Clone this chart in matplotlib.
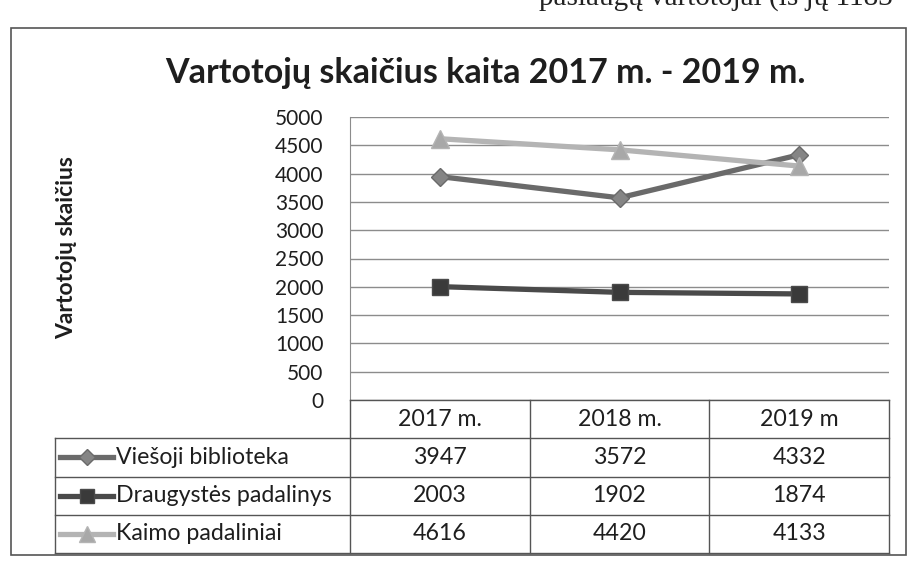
import matplotlib
matplotlib.use("Agg")
import matplotlib.pyplot as plt
import matplotlib.transforms as mtransforms
from matplotlib.lines import Line2D
from matplotlib.patches import Rectangle

plt.rcParams['font.family'] = ['Lato', 'DejaVu Sans']

title = "Vartotojų skaičius kaita 2017 m. - 2019 m."
ylabel = "Vartotojų skaičius"
top_text = "paslaugų vartotojai (iš jų 1183"
categories = ["2017 m.", "2018 m.", "2019 m"]
series_names = ["Viešoji biblioteka", "Draugystės padalinys", "Kaimo padaliniai"]
viesoji = [3947, 3572, 4332]
draugystes = [2003, 1902, 1874]
kaimo = [4616, 4420, 4133]
yticks = [0, 500, 1000, 1500, 2000, 2500, 3000, 3500, 4000, 4500, 5000]

series = [viesoji, draugystes, kaimo]
colors = ["#6a6a6a", "#4a4a4a", "#b4b4b4"]
mcolors = ["#858585", "#3a3a3a", "#a8a8a8"]
markers = ["D", "s", "^"]
msizes = [9.5, 11.5, 13]
TXT = "#1e1e1e"
EDGE = "#555555"
TFS = 16.7

W, H = 909, 573
fig = plt.figure(figsize=(W / 100, H / 100), dpi=100)


def fx(px):
    return px / W


def fy(py):
    return 1 - py / H


# outer chart border
fig.patches.append(Rectangle((fx(11), fy(555)), fx(906) - fx(11), fy(28) - fy(555),
                             transform=fig.transFigure, fill=False,
                             edgecolor=EDGE, lw=1.2))

# cropped document text at the top
fig.text(fx(893), fy(5), top_text, ha="right", va="baseline",
         fontsize=21, family="Liberation Serif", color="#222222")

fig.text(fx(485), fy(73), title, ha="center", va="center", fontsize=24.5,
         fontweight="bold", color=TXT)

left, right, top, bottom = 350, 889, 117, 400
ax = fig.add_axes([fx(left), fy(bottom), fx(right) - fx(left), fy(top) - fy(bottom)])
x = list(range(len(categories)))
for vals, c, mc, m, ms in zip(series, colors, mcolors, markers, msizes):
    ax.plot(x, vals, color=c, lw=3.8, marker=m, markersize=ms,
            markerfacecolor=mc, markeredgecolor=c, zorder=3)
ax.set_xlim(-0.5, len(categories) - 0.5)
ax.set_ylim(0, 5000)
ax.set_yticks(yticks)
ax.set_yticklabels([str(v) for v in yticks], fontsize=15, color=TXT)
ax.yaxis.grid(True, color="#8c8c8c", lw=1.0)
ax.set_axisbelow(True)
ax.set_xticks([])
ax.tick_params(axis="y", length=0, pad=19)
for s in ["top", "right", "bottom"]:
    ax.spines[s].set_visible(False)
ax.spines["left"].set_color("#8c8c8c")

fig.text(fx(67), fy(248), ylabel, rotation=90, ha="center", va="center",
         fontsize=16.5, fontweight="bold", color=TXT)

# ---- data table below the plot (columns follow the x scale) ----
tab_left, tab_top, tab_bottom = 55, 400, 553
nrows = len(series) + 1
row_h = (tab_bottom - tab_top) / nrows
row_edges = [tab_top + row_h * i for i in range(nrows + 1)]
colx = mtransforms.blended_transform_factory(ax.transData, fig.transFigure)
col_bounds = [i - 0.5 for i in range(len(categories) + 1)]

# vertical lines of the value columns
for xb in col_bounds:
    fig.add_artist(Line2D([xb, xb], [fy(tab_top), fy(tab_bottom)], transform=colx,
                          color=EDGE, lw=1.0))
# header top line
fig.add_artist(Line2D([col_bounds[0], col_bounds[-1]], [fy(tab_top), fy(tab_top)],
                      transform=colx, color=EDGE, lw=1.0))
# row lines (including the label column)
for ry in row_edges[1:]:
    fig.add_artist(Line2D([fx(tab_left), fx(right)], [fy(ry), fy(ry)],
                          transform=fig.transFigure, color=EDGE, lw=1.0))
# label column left edge
fig.add_artist(Line2D([fx(tab_left), fx(tab_left)], [fy(row_edges[1]), fy(tab_bottom)],
                      transform=fig.transFigure, color=EDGE, lw=1.0))

# header texts
hy = (row_edges[0] + row_edges[1]) / 2
for i, cat in enumerate(categories):
    fig.text(i, fy(hy), cat, transform=colx, ha="center", va="center",
             fontsize=TFS, color=TXT)

# series rows
for r, (name, vals) in enumerate(zip(series_names, series)):
    yc = (row_edges[r + 1] + row_edges[r + 2]) / 2
    for i, v in enumerate(vals):
        fig.text(i, fy(yc), str(v), transform=colx, ha="center", va="center",
                 fontsize=TFS, color=TXT)
    fig.text(fx(116), fy(yc), name, ha="left", va="center", fontsize=TFS, color=TXT)
    # legend key
    fig.add_artist(Line2D([fx(60), fx(113)], [fy(yc), fy(yc)], transform=fig.transFigure,
                          color=colors[r], lw=3.8))
    fig.add_artist(Line2D([fx(87)], [fy(yc)], transform=fig.transFigure,
                          color=colors[r], marker=markers[r], markersize=msizes[r] * 0.9,
                          markerfacecolor=mcolors[r], markeredgecolor=colors[r]))

fig.savefig("out.png", dpi=100)
